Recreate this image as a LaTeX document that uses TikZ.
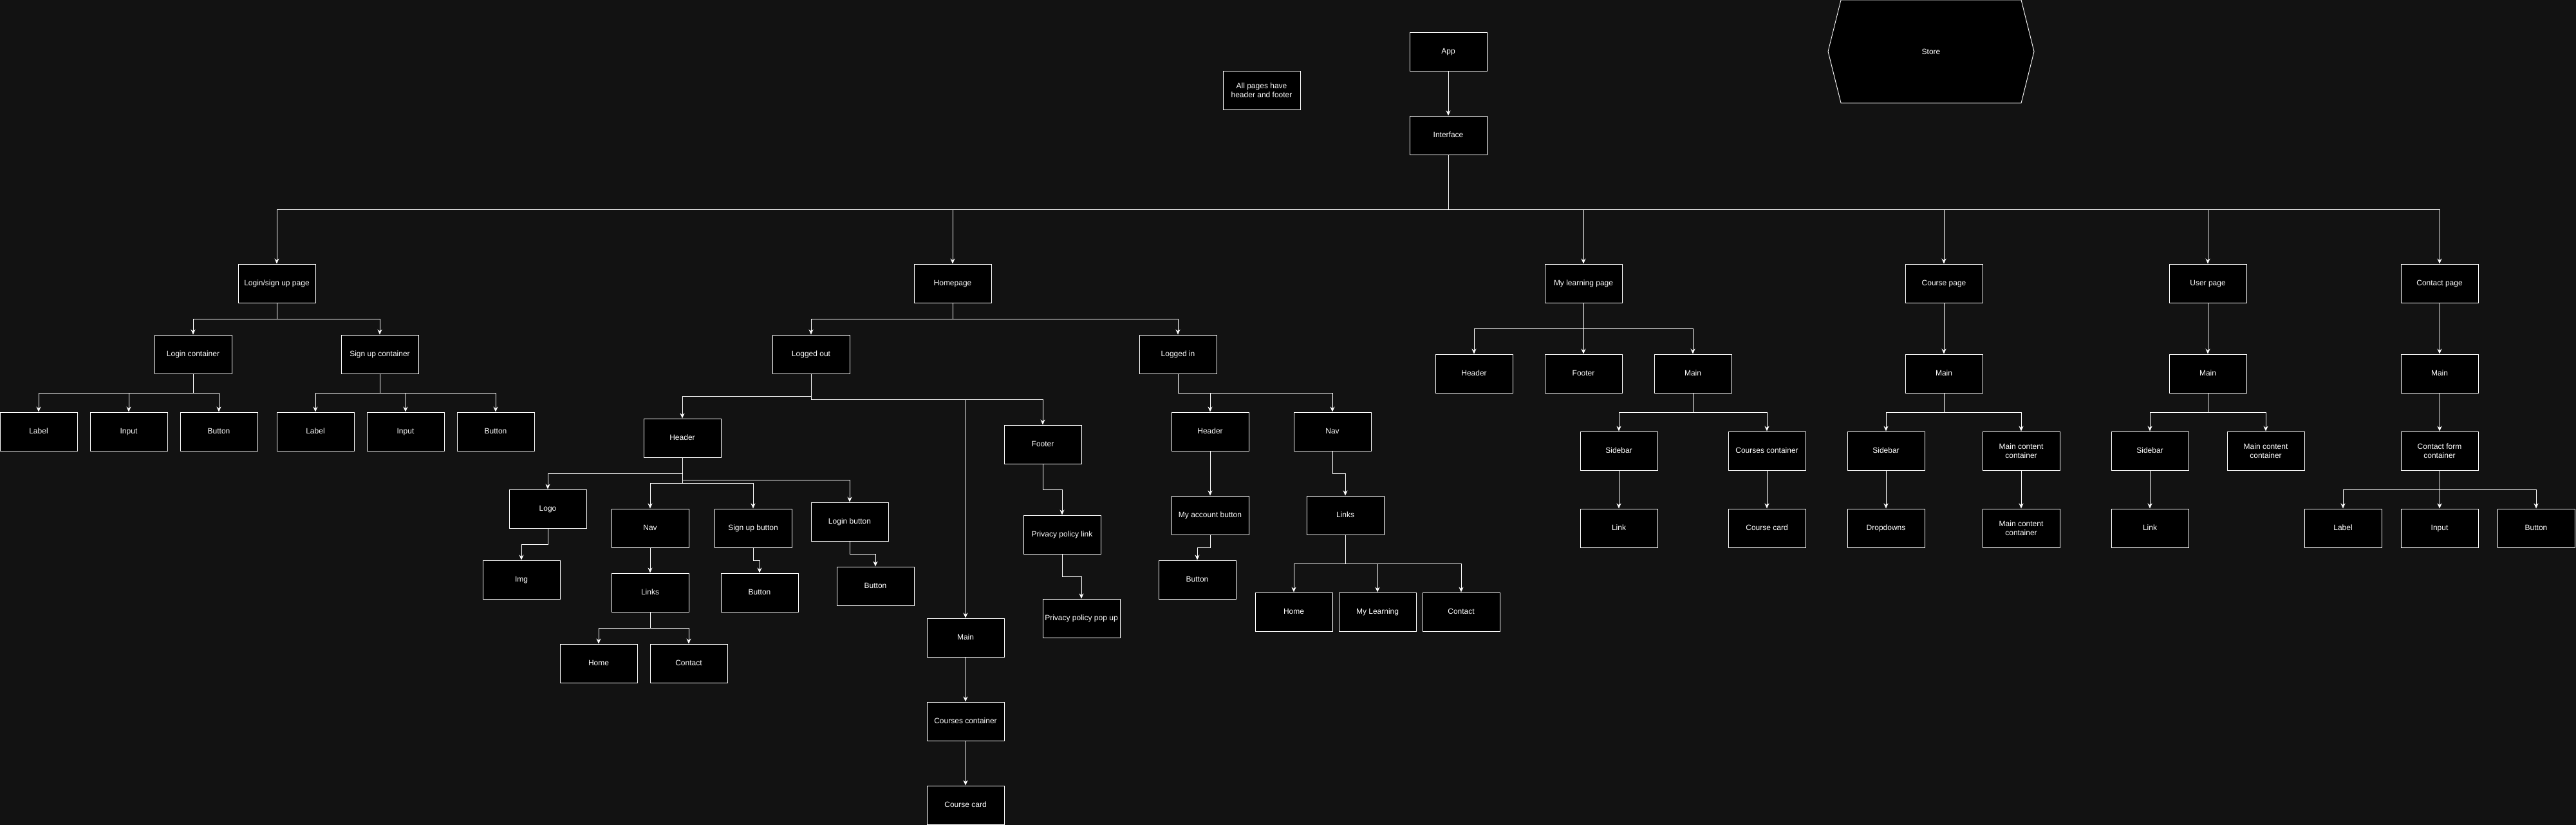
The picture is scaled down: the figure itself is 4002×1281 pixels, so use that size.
\documentclass[tikz,border=0pt]{standalone}
\usepackage{fontspec}
\setmainfont{Liberation Sans}
\usetikzlibrary{arrows.meta}
\definecolor{bg}{HTML}{121212}
\tikzset{
  mbox/.style={draw=white, fill=black, line width=0.9pt, minimum width=120pt, minimum height=60pt,
    inner sep=0pt, text=white, font=\fontsize{12pt}{14pt}\selectfont, align=center},
  box/.style={mbox, text height=8.8pt, text depth=2.6pt},
  arr/.style={draw=white, line width=0.9pt, -{Stealth[length=8pt,width=7pt,inset=2.5pt]}}
}
\begin{document}
\begin{tikzpicture}[x=1pt,y=-1pt]
\fill[bg] (0,0) rectangle (4002,1281);
\useasboundingbox (0,0) rectangle (4002,1281);

% top
\node[box] (app) at (2250,80) {App};
\node[box] (iface) at (2250,210) {Interface};
\node[mbox] (note) at (1960,140) {All pages have\\header and footer};
\filldraw[fill=black, draw=white, line width=0.9pt] (2840,80) -- (2860,0) -- (3140,0) -- (3160,80) -- (3140,160) -- (2860,160) -- cycle;
\node[text=white, font=\fontsize{12pt}{14pt}\selectfont] (store) at (3000,80) {Store};

% pages
\node[box] (login) at (430,440) {Login/sign up page};
\node[box] (home) at (1480,440) {Homepage};
\node[box] (mylearn) at (2460,440) {My learning page};
\node[box] (course) at (3020,440) {Course page};
\node[box] (user) at (3430,440) {User page};
\node[box] (contact) at (3790,440) {Contact page};

% login subtree
\node[box] (logc) at (300,550) {Login container};
\node[box] (sigc) at (590,550) {Sign up container};
\node[box] (l1) at (60,670) {Label};
\node[box] (l2) at (200,670) {Input};
\node[box] (l3) at (340,670) {Button};
\node[box] (s1) at (490,670) {Label};
\node[box] (s2) at (630,670) {Input};
\node[box] (s3) at (770,670) {Button};

% homepage subtree
\node[box] (lout) at (1260,550) {Logged out};
\node[box] (lin) at (1830,550) {Logged in};
\node[box] (hdr) at (1060,680) {Header};
\node[box] (logo) at (851,790) {Logo};
\node[box] (img) at (810,900) {Img};
\node[box] (nav) at (1010,820) {Nav};
\node[box] (links) at (1010,920) {Links};
\node[box] (home1) at (930,1030) {Home};
\node[box] (cont1) at (1070,1030) {Contact};
\node[box] (sub) at (1170,820) {Sign up button};
\node[box] (subb) at (1180,920) {Button};
\node[box] (lb) at (1320,810) {Login button};
\node[box] (lbb) at (1360,910) {Button};
\node[box] (main1) at (1500,990) {Main};
\node[box] (cc1) at (1500,1120) {Courses container};
\node[box] (card1) at (1500,1250) {Course card};
\node[box] (foot) at (1620,690) {Footer};
\node[box] (ppl) at (1650,830) {Privacy policy link};
\node[box] (ppp) at (1680,960) {Privacy policy pop up};
\node[box] (hdr2) at (1880,670) {Header};
\node[box] (nav2) at (2070,670) {Nav};
\node[box] (acc) at (1880,800) {My account button};
\node[box] (accb) at (1860,900) {Button};
\node[box] (links2) at (2090,800) {Links};
\node[box] (h2) at (2010,950) {Home};
\node[box] (ml2) at (2140,950) {My Learning};
\node[box] (c2) at (2270,950) {Contact};

% my learning subtree
\node[box] (mlh) at (2290,580) {Header};
\node[box] (mlf) at (2460,580) {Footer};
\node[box] (mlm) at (2630,580) {Main};
\node[box] (mls) at (2515,700) {Sidebar};
\node[box] (mlc) at (2745,700) {Courses container};
\node[box] (mlk) at (2515,820) {Link};
\node[box] (mlcard) at (2745,820) {Course card};

% course page subtree
\node[box] (cpm) at (3020,580) {Main};
\node[box] (cps) at (2930,700) {Sidebar};
\node[mbox] (cpc) at (3140,700) {Main content\\container};
\node[box] (cpd) at (2930,820) {Dropdowns};
\node[mbox] (cpc2) at (3140,820) {Main content\\container};

% user page subtree
\node[box] (upm) at (3430,580) {Main};
\node[box] (ups) at (3340,700) {Sidebar};
\node[mbox] (upc) at (3520,700) {Main content\\container};
\node[box] (upk) at (3340,820) {Link};

% contact subtree
\node[box] (ctm) at (3790,580) {Main};
\node[mbox] (ctf) at (3790,700) {Contact form\\container};
\node[box] (ct1) at (3640,820) {Label};
\node[box] (ct2) at (3790,820) {Input};
\node[box] (ct3) at (3940,820) {Button};

% connectors
\draw[arr] (app.south) -- (iface.north);
\foreach \c in {login,home,mylearn,course,user,contact}
  \draw[arr] (iface.south) -- (iface.south |- 0,325) -| (\c.north);

\foreach \c in {logc,sigc}
  \draw[arr] (login.south) -- (login.south |- 0,495) -| (\c.north);
\foreach \c in {l1,l2,l3}
  \draw[arr] (logc.south) -- (logc.south |- 0,610) -| (\c.north);
\foreach \c in {s1,s2,s3}
  \draw[arr] (sigc.south) -- (sigc.south |- 0,610) -| (\c.north);

\foreach \c in {lout,lin}
  \draw[arr] (home.south) -- (home.south |- 0,495) -| (\c.north);
\draw[arr] (lout.south) -- (lout.south |- 0,615) -| (hdr.north);
\foreach \c in {main1,foot}
  \draw[arr] (lout.south) -- (lout.south |- 0,620) -| (\c.north);
\draw[arr] (hdr.south) -- (hdr.south |- 0,735) -| (logo.north);
\foreach \c in {nav,sub}
  \draw[arr] (hdr.south) -- (hdr.south |- 0,750) -| (\c.north);
\draw[arr] (hdr.south) -- (hdr.south |- 0,745) -| (lb.north);
\draw[arr] (logo.south) -- (logo.south |- 0,845) -| (img.north);
\draw[arr] (nav.south) -- (links.north);
\foreach \c in {home1,cont1}
  \draw[arr] (links.south) -- (links.south |- 0,975) -| (\c.north);
\draw[arr] (sub.south) -- (sub.south |- 0,870) -| (subb.north);
\draw[arr] (lb.south) -- (lb.south |- 0,860) -| (lbb.north);
\draw[arr] (main1.south) -- (cc1.north);
\draw[arr] (cc1.south) -- (card1.north);
\draw[arr] (foot.south) -- (foot.south |- 0,760) -| (ppl.north);
\draw[arr] (ppl.south) -- (ppl.south |- 0,895) -| (ppp.north);
\foreach \c in {hdr2,nav2}
  \draw[arr] (lin.south) -- (lin.south |- 0,610) -| (\c.north);
\draw[arr] (hdr2.south) -- (acc.north);
\draw[arr] (acc.south) -- (acc.south |- 0,850) -| (accb.north);
\draw[arr] (nav2.south) -- (nav2.south |- 0,735) -| (links2.north);
\foreach \c in {h2,ml2,c2}
  \draw[arr] (links2.south) -- (links2.south |- 0,875) -| (\c.north);

\foreach \c in {mlh,mlf,mlm}
  \draw[arr] (mylearn.south) -- (mylearn.south |- 0,510) -| (\c.north);
\foreach \c in {mls,mlc}
  \draw[arr] (mlm.south) -- (mlm.south |- 0,640) -| (\c.north);
\draw[arr] (mls.south) -- (mlk.north);
\draw[arr] (mlc.south) -- (mlcard.north);

\draw[arr] (course.south) -- (cpm.north);
\foreach \c in {cps,cpc}
  \draw[arr] (cpm.south) -- (cpm.south |- 0,640) -| (\c.north);
\draw[arr] (cps.south) -- (cpd.north);
\draw[arr] (cpc.south) -- (cpc2.north);

\draw[arr] (user.south) -- (upm.north);
\foreach \c in {ups,upc}
  \draw[arr] (upm.south) -- (upm.south |- 0,640) -| (\c.north);
\draw[arr] (ups.south) -- (upk.north);

\draw[arr] (contact.south) -- (ctm.north);
\draw[arr] (ctm.south) -- (ctf.north);
\foreach \c in {ct1,ct2,ct3}
  \draw[arr] (ctf.south) -- (ctf.south |- 0,760) -| (\c.north);
\end{tikzpicture}
\end{document}
